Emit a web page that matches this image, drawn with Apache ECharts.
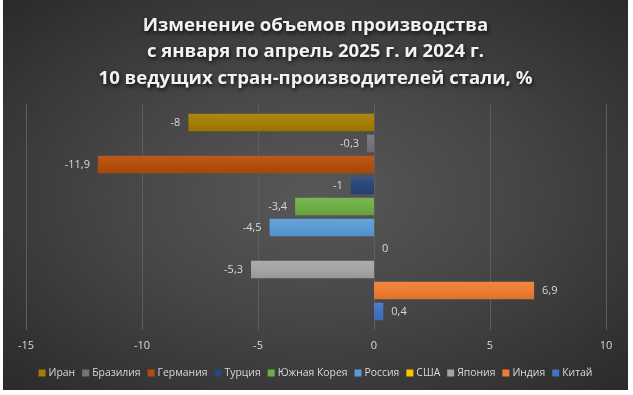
<!DOCTYPE html>
<html><head><meta charset="utf-8">
<script src="https://cdn.jsdelivr.net/npm/echarts@6/dist/echarts.min.js"></script>
<style>
html,body{margin:0;padding:0;background:#ffffff;width:633px;height:395px;overflow:hidden;}
#wrap{position:absolute;left:3px;top:0;width:625px;height:390px;
background:radial-gradient(ellipse at 50% 50%, #585858 0%, #464646 45%, #2a2a2a 100%);}
#c{width:625px;height:390px;}
</style></head>
<body><div id="wrap"><div id="c"></div></div>
<script>
const countries = ['Иран','Бразилия','Германия','Турция','Южная Корея','Россия','США','Япония','Индия','Китай'];
const values = [-8, -0.3, -11.9, -1, -3.4, -4.5, 0, -5.3, 6.9, 0.4];
const colors = ['#A57D00','#747474','#B44D0C','#28467A','#6FAE46','#5B9BD5','#FFC000','#A5A5A5','#ED7D31','#4472C4'];
const xTicks = [-15, -10, -5, 0, 5, 10];
const titleLines = ['Изменение объемов производства','с января по апрель 2025 г. и 2024 г.','10 ведущих стран-производителей стали, %'];

function shade(hex, f){
  const n=parseInt(hex.slice(1),16);let r=n>>16,g=(n>>8)&255,b=n&255;
  const m=v=>Math.max(0,Math.min(255,Math.round(f>0? v+(255-v)*f : v*(1+f))));
  return 'rgb('+m(r)+','+m(g)+','+m(b)+')';
}
const chart = echarts.init(document.getElementById('c'), null, {renderer:'canvas'});
const series = countries.map((name,i)=>({
  name, type:'bar',
  data:[values[i]],
  barWidth:17.5,
  barGap:'20%',
  itemStyle:{color:new echarts.graphic.LinearGradient(0,0,0,1,[
    {offset:0,color:shade(colors[i],0.08)},{offset:0.5,color:colors[i]},{offset:1,color:shade(colors[i],-0.08)}])},
  label:{show:true,position: values[i] < 0 ? 'left':'right', distance:8,
    color:'#D9D9D9', fontSize:11, fontFamily:'"Open Sans", sans-serif',
    formatter:p=>String(p.value).replace('.',',')}
}));
const legendData = countries.map((n,i)=>({name:n,itemStyle:{color:colors[i]}}));
chart.setOption({
  animation:false,
  textStyle:{fontFamily:'"Open Sans", sans-serif'},
  title:{text:titleLines.join('\n'), left:'center', top:7,
    textStyle:{color:'#F2F2F2', fontSize:18.6, fontWeight:'bold', lineHeight:26.5,
      fontFamily:'"Open Sans", sans-serif',
      textShadowColor:'rgba(0,0,0,0.8)', textShadowBlur:4, textShadowOffsetX:1, textShadowOffsetY:2}},
  legend:{data:legendData, bottom:7, left:'center', itemWidth:7, itemHeight:7, itemGap:7,
    icon:'rect', textStyle:{color:'#D9D9D9', fontSize:10.4, padding:[0,0,0,-2]}},
  grid:{left:23, right:22, top:104, bottom:60},
  xAxis:{type:'value', min:-15, max:10, interval:5,
    axisLabel:{color:'#D9D9D9', fontSize:11, margin:10},
    axisLine:{show:false}, axisTick:{show:false},
    splitLine:{lineStyle:{color:'#5e5e5e', width:1}}},
  yAxis:{type:'category', data:[''], show:false},
  series
});
</script></body></html>
